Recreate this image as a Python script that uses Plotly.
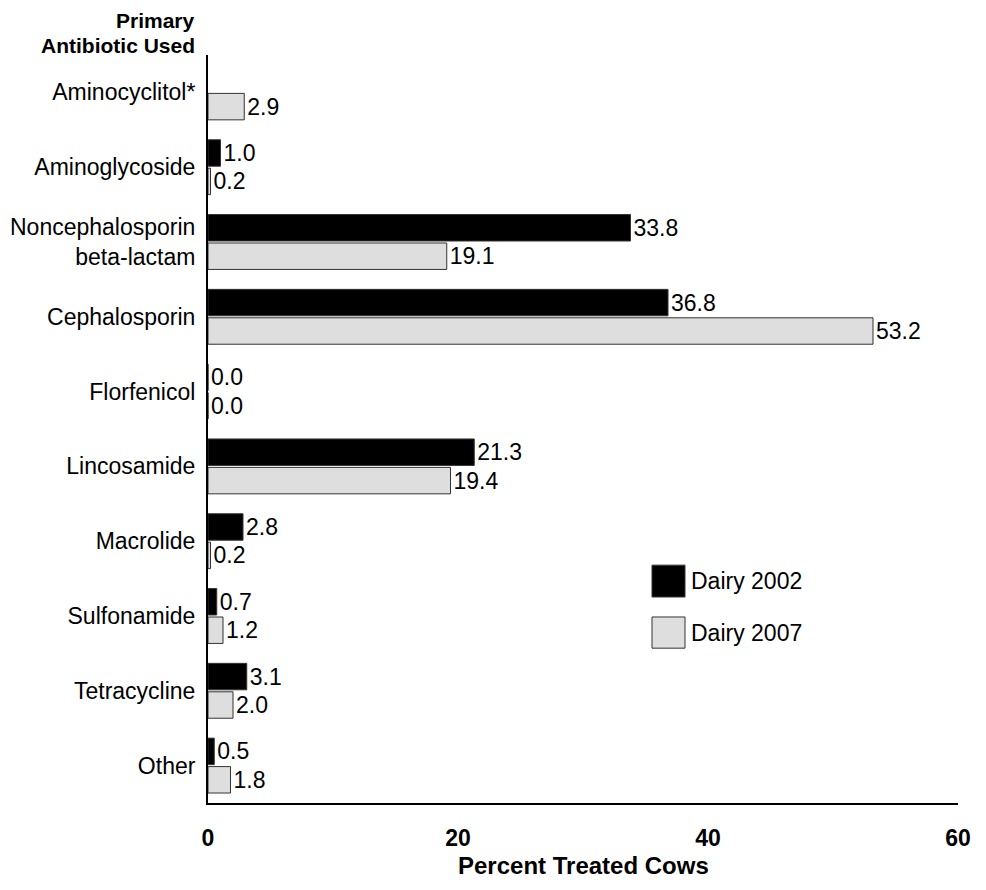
import plotly.graph_objects as go

# categories, top to bottom
antibiotics = [
    "Aminocyclitol*", "Aminoglycoside", "Noncephalosporin<br>beta-lactam",
    "Cephalosporin", "Florfenicol", "Lincosamide", "Macrolide",
    "Sulfonamide", "Tetracycline", "Other",
]
dairy_2002 = [None, 1.0, 33.8, 36.8, 0.0, 21.3, 2.8, 0.7, 3.1, 0.5]
dairy_2007 = [2.9, 0.2, 19.1, 53.2, 0.0, 19.4, 0.2, 1.2, 2.0, 1.8]

FONT = "Liberation Sans, Arial, sans-serif"
BLACK = "#000000"
GRAY = "#dedede"
EDGE = "#333333"

fig = go.Figure()
for name, vals, col in [("Dairy 2002", dairy_2002, BLACK),
                        ("Dairy 2007", dairy_2007, GRAY)]:
    fig.add_trace(go.Bar(
        y=antibiotics, x=vals, orientation="h", name=name,
        marker={"color": col, "line": {"color": EDGE, "width": 1}},
        text=[None if v is None else f"{v:.1f}" for v in vals],
        textposition="outside", constraintext="none", cliponaxis=False,
        textfont={"size": 23, "color": "#000000", "family": FONT},
        showlegend=False,
    ))

# legend drawn by hand so the swatches are large like the original
legend_items = [("Dairy 2002", BLACK, 0.2754, 0.318),
                ("Dairy 2007", GRAY, 0.207, 0.2487)]
for label, col, y0, y1 in legend_items:
    fig.add_shape(type="rect", xref="paper", yref="paper",
                  x0=0.592, x1=0.636, y0=y0, y1=y1,
                  fillcolor=col, line={"color": EDGE, "width": 1})
    fig.add_annotation(text=label, xref="paper", yref="paper",
                       x=0.641, y=(y0 + y1) / 2, xanchor="left", yanchor="middle",
                       showarrow=False, font={"size": 23, "color": "#000", "family": FONT})

# y-axis heading, one annotation per line to keep the tight line spacing
for line, shift in [("Primary", 35), ("Antibiotic Used", 10)]:
    fig.add_annotation(text=f"<b>{line}</b>", xref="paper", yref="paper",
                       x=0, y=1, xshift=-11, yshift=shift,
                       xanchor="right", yanchor="middle",
                       showarrow=False, font={"size": 21, "color": "#000", "family": FONT})

# x-axis title as an annotation so it can sit right at the bottom edge
fig.add_annotation(text="<b>Percent Treated Cows</b>", xref="paper", yref="paper",
                   x=0.5, y=0, yshift=-78, xanchor="center", yanchor="bottom",
                   showarrow=False, font={"size": 24, "color": "#000", "family": FONT})

fig.update_layout(
    barmode="group", bargap=0.24, bargroupgap=0.07,
    width=978, height=874,
    paper_bgcolor="white", plot_bgcolor="white",
    font={"family": FONT, "color": "#000"},
    margin={"l": 200, "r": 28, "t": 47, "b": 79},
    xaxis={"range": [0, 60], "dtick": 20, "showgrid": False, "zeroline": False,
           "showline": True, "linecolor": "#000", "linewidth": 2, "automargin": False,
           "ticks": "", "ticklabelstandoff": 13,
           "tickfont": {"size": 23, "family": "Liberation Sans, Arial", "weight": "bold"}},
    yaxis={"autorange": "reversed", "showgrid": False, "zeroline": False,
           "showline": True, "linecolor": "#000", "linewidth": 2, "automargin": False,
           "ticks": "", "ticklabelstandoff": 6,
           "tickfont": {"size": 23}},
)

fig.write_html("out.html")
